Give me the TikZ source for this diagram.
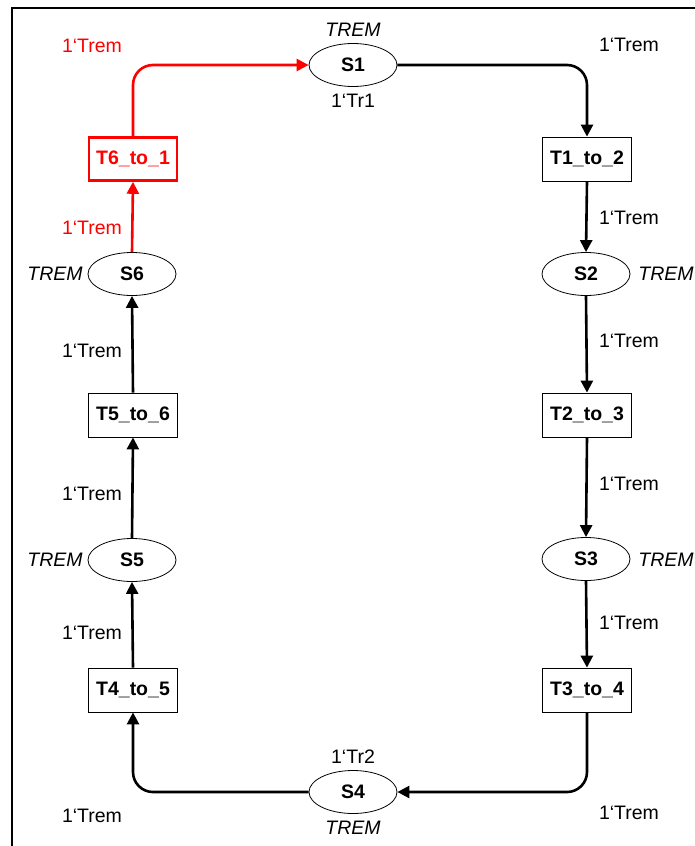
\documentclass[tikz,border=0pt]{standalone}
\usepackage{fontspec}
\setmainfont{Liberation Sans}
\usetikzlibrary{arrows.meta,shapes.geometric}
\begin{document}
\begin{tikzpicture}[x=1pt,y=-1pt,
  txt/.style={font=\fontsize{19.5}{22}\selectfont, inner sep=0pt},
  ital/.style={font=\fontsize{19.5}{22}\selectfont\itshape, inner sep=0pt},
  place/.style={draw, ellipse, minimum width=88pt, minimum height=43pt, inner sep=0pt, line width=0.8pt, font=\fontsize{19.5}{22}\selectfont\bfseries},
  trans/.style={draw, rectangle, minimum width=89pt, minimum height=44pt, inner sep=0pt, line width=0.8pt, font=\fontsize{19.5}{22}\selectfont\bfseries},
  arcline/.style={line width=2.6pt, rounded corners=20pt, -{Triangle[length=12pt,width=12pt]}},
  hot/.style={red, line width=2.6pt}
]
\useasboundingbox (0,0) rectangle (695,846);
% frame
\draw[line width=2.8pt] (12,846) -- (12,8) -- (695,8);

% places
\node[place] (s1) at (353,65) {S1};
\node[place] (s2) at (586,274) {S2};
\node[place] (s3) at (586,559) {S3};
\node[place] (s4) at (353,792) {S4};
\node[place] (s5) at (132,560) {S5};
\node[place] (s6) at (132,274) {S6};

% transitions
\node[trans] (t12) at (587,159) {T1\_to\_2};
\node[trans] (t23) at (587,415) {T2\_to\_3};
\node[trans] (t34) at (587,690) {T3\_to\_4};
\node[trans] (t45) at (133,690) {T4\_to\_5};
\node[trans] (t56) at (133,415) {T5\_to\_6};
\node[trans, draw=red, text=red, line width=2.6pt, minimum width=88pt, minimum height=43pt] (t61) at (133,159) {T6\_to\_1};

% arcs
\draw[arcline] (s1.east) -| (t12.north);
\draw[arcline] (t12.south) -- (s2.north);
\draw[arcline] (s2.south) -- (t23.north);
\draw[arcline] (t23.south) -- (s3.north);
\draw[arcline] (s3.south) -- (t34.north);
\draw[arcline] (t34.south) |- (s4.east);
\draw[arcline] (s4.west) -| (t45.south);
\draw[arcline] (t45.north) -- (s5.south);
\draw[arcline] (s5.north) -- (t56.south);
\draw[arcline] (t56.north) -- (s6.south);
\draw[arcline, red] (s6.north) -- (t61.south);
\draw[arcline, red] (t61.north) |- (s1.west);

% place labels
\node[ital] (c1) at (353,30) {TREM};
\node[txt] (m1) at (353,101) {1‘Tr1};
\node[ital] (c2) at (666,274) {TREM};
\node[ital] (c3) at (666,560) {TREM};
\node[txt] (m4) at (353,757) {1‘Tr2};
\node[ital] (c4) at (353,828) {TREM};
\node[ital] (c5) at (55,560) {TREM};
\node[ital] (c6) at (55,274) {TREM};

% arc labels
\node[txt] (a1) at (629,45) {1‘Trem};
\node[txt] (a2) at (629,218) {1‘Trem};
\node[txt] (a3) at (629,341) {1‘Trem};
\node[txt] (a4) at (629,484) {1‘Trem};
\node[txt] (a5) at (629,623) {1‘Trem};
\node[txt] (a6) at (629,813) {1‘Trem};
\node[txt] (a7) at (92,816) {1‘Trem};
\node[txt] (a8) at (92,633) {1‘Trem};
\node[txt] (a9) at (92,494) {1‘Trem};
\node[txt] (a10) at (92,351) {1‘Trem};
\node[txt, text=red] (a11) at (92,228) {1‘Trem};
\node[txt, text=red] (a12) at (92,46) {1‘Trem};
\end{tikzpicture}
\end{document}
